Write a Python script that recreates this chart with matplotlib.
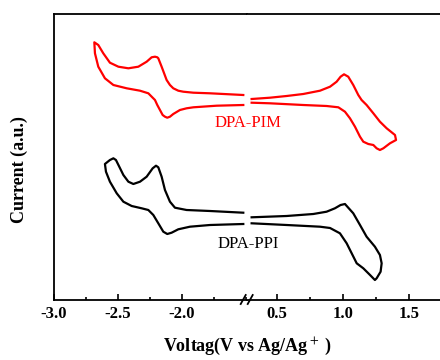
import numpy as np
import matplotlib
matplotlib.use("Agg")
import matplotlib.pyplot as plt
from matplotlib.lines import Line2D
from matplotlib.ticker import MultipleLocator

# cyclic voltammograms (current in arbitrary units)
pim_left_v = [-1.521, -1.781, -1.911, -1.990, -2.029, -2.068, -2.094, -2.120, -2.159, -2.185,
              -2.193, -2.211, -2.237, -2.276, -2.341, -2.419, -2.497, -2.563, -2.615, -2.654,
              -2.685, -2.680, -2.654, -2.602, -2.536, -2.432, -2.328, -2.263, -2.211, -2.193,
              -2.172, -2.151, -2.133, -2.115, -2.094, -2.068, -2.016, -1.964, -1.911, -1.729,
              -1.521]
pim_left_i = [20.5, 20.67, 20.73, 20.83, 20.93, 21.17, 21.5, 22.0, 23.33, 24.17,
              24.27, 24.33, 24.27, 23.83, 23.33, 23.17, 23.33, 23.73, 24.67, 25.5,
              25.77, 24.67, 23.33, 22.17, 21.5, 21.17, 20.93, 20.67, 20.0, 19.5,
              19.0, 18.5, 18.33, 18.23, 18.33, 18.6, 19.0, 19.17, 19.27, 19.43,
              19.5]
pim_right_v = [0.308, 0.447, 0.573, 0.699, 0.826, 0.902, 0.952, 0.982, 1.008, 1.040,
               1.078, 1.116, 1.141, 1.179, 1.230, 1.280, 1.331, 1.394, 1.402, 1.356,
               1.306, 1.280, 1.255, 1.230, 1.192, 1.154, 1.129, 1.091, 1.053, 1.015,
               0.965, 0.876, 0.699, 0.447, 0.308]
pim_right_i = [20.1, 20.23, 20.4, 20.6, 20.93, 21.33, 21.83, 22.33, 22.57, 22.33,
               21.5, 20.5, 20.0, 19.5, 18.67, 17.83, 17.17, 16.5, 16.0, 15.67,
               15.17, 15.0, 15.17, 15.5, 15.6, 15.83, 16.33, 17.33, 18.17, 18.83,
               19.27, 19.4, 19.5, 19.67, 19.73]

ppi_left_v = [-1.521, -1.781, -1.964, -2.055, -2.094, -2.133, -2.159, -2.185, -2.203, -2.229,
              -2.276, -2.328, -2.380, -2.419, -2.458, -2.490, -2.516, -2.536, -2.563, -2.602,
              -2.594, -2.563, -2.510, -2.458, -2.393, -2.315, -2.263, -2.224, -2.185, -2.146,
              -2.115, -2.081, -2.029, -1.938, -1.781, -1.521]
ppi_left_i = [8.73, 8.9, 9.0, 9.23, 9.83, 11.0, 12.33, 13.27, 13.43, 13.17,
              12.33, 11.83, 11.6, 11.83, 12.5, 13.33, 14.0, 14.17, 14.0, 13.6,
              12.83, 11.83, 10.67, 9.83, 9.4, 9.17, 9.0, 8.5, 7.67, 6.83,
              6.6, 6.73, 7.07, 7.33, 7.5, 7.6]
ppi_right_v = [0.308, 0.573, 0.775, 0.876, 0.939, 0.982, 1.015, 1.078, 1.129, 1.179,
               1.242, 1.280, 1.293, 1.285, 1.255, 1.242, 1.205, 1.154, 1.104, 1.066,
               1.028, 0.977, 0.902, 0.826, 0.573, 0.308]
ppi_right_i = [8.27, 8.4, 8.6, 8.83, 9.17, 9.5, 9.6, 8.67, 7.5, 6.33,
               5.33, 4.5, 3.67, 2.83, 2.17, 2.0, 2.5, 3.17, 3.67, 4.67,
               5.67, 6.67, 7.2, 7.33, 7.5, 7.67]

plt.rcParams['font.family'] = ['Liberation Serif', 'DejaVu Serif']
plt.rcParams['mathtext.fontset'] = 'stix'

W, H = 440, 360
fig = plt.figure(figsize=(W / 100, H / 100), dpi=100)
x0, xb, y0, y1 = 54, 247, 300, 14
bot = (H - y0) / H
hgt = (y0 - y1) / H
ax1 = fig.add_axes([x0 / W, bot, (xb - x0) / W, hgt])
ax2 = fig.add_axes([xb / W, bot, (W - xb) / W, hgt])

red = '#ff0000'
kw = dict(lw=1.6, solid_joinstyle='round')
ax1.plot(pim_left_v, pim_left_i, color=red, **kw)
ax2.plot(pim_right_v, pim_right_i, color=red, **kw)
ax1.plot(ppi_left_v, ppi_left_i, color='black', **kw)
ax2.plot(ppi_right_v, ppi_right_i, color='black', **kw)

ax1.set_xlim(-3.0, -1.492)
ax2.set_xlim(0.273, 1.735)
for ax in (ax1, ax2):
    ax.set_ylim(0, 28.6)
    ax.set_yticks([])
    ax.xaxis.set_major_locator(MultipleLocator(0.5))
    ax.xaxis.set_minor_locator(MultipleLocator(0.25))
    ax.tick_params(axis='x', which='major', direction='in', length=4, width=1.2, pad=4,
                   labelsize=12)
    ax.tick_params(axis='x', which='minor', direction='in', length=2.5, width=1.2)
    for s in ax.spines.values():
        s.set_linewidth(1.3)
ax1.spines['right'].set_visible(False)
ax2.spines['left'].set_visible(False)
ax2.spines['right'].set_visible(False)
ax1.set_xticks([-3.0, -2.5, -2.0])
ax1.set_xticklabels(['-3.0', '-2.5', '-2.0'], fontweight='bold')
ax2.set_xticks([0.5, 1.0, 1.5])
ax2.set_xticklabels(['0.5', '1.0', '1.5'], fontweight='bold')

# break marks on the bottom axis
for cx in (243.2, 250.2):
    fig.add_artist(Line2D([(cx - 2.5) / W, (cx + 2.5) / W],
                          [(H - 304) / H, (H - 295) / H],
                          transform=fig.transFigure, color='black', lw=1.3))

fig.text(248 / W, 1 - 123 / H, 'DPA-PIM', color=red, fontsize=12, ha='center', va='center')
fig.text(248 / W, 1 - 244 / H, 'DPA-PPI', color='black', fontsize=12, ha='center', va='center')

fig.text(248 / W, 1 - 346 / H, 'Voltag(V vs Ag/Ag$^+$ )', fontsize=13, fontweight='bold',
         ha='center', va='center')
fig.text(19 / W, 1 - 170 / H, 'Current (a.u.)', fontsize=13, fontweight='bold',
         ha='center', va='center', rotation=90)

fig.savefig('out.png', dpi=100)
